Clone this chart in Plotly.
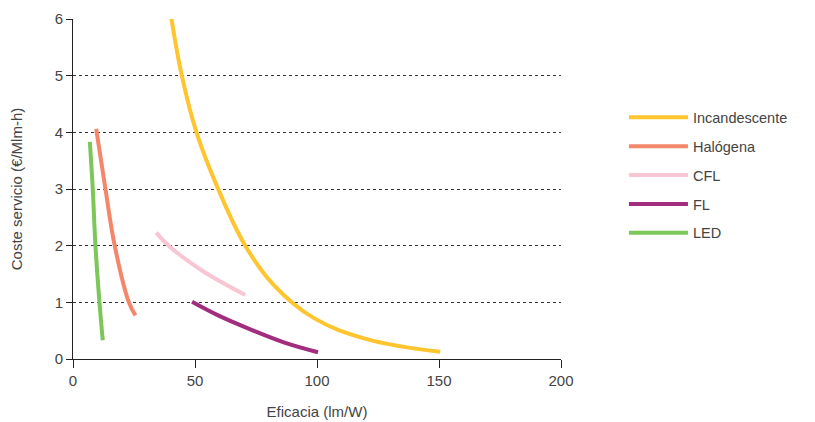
import plotly.graph_objects as go

# Data
inc_x = [40.3, 44.6, 50.6, 59.5, 70.6, 82.2, 98.6, 120.4, 150.5]
inc_y = [6.02, 5.0, 4.0, 3.0, 2.0, 1.31, 0.726, 0.35, 0.127]

hal_x = [9.5, 13.3, 17.1, 22.9, 25.6]
hal_y = [4.06, 3.0, 2.0, 1.0, 0.77]

cfl_x = [34.1, 39.2, 52.2, 70.6]
cfl_y = [2.23, 2.0, 1.58, 1.13]

fl_x = [48.8, 59.7, 73.4, 87.0, 100.4]
fl_y = [1.01, 0.765, 0.51, 0.285, 0.12]

led_x = [6.9, 8.1, 9.2, 10.85, 12.2]
led_y = [3.83, 3.0, 2.0, 1.0, 0.33]

x_ticks = [0, 50, 100, 150, 200]
y_ticks = [0, 1, 2, 3, 4, 5, 6]

series = [
    ("Incandescente", inc_x, inc_y, "#FFC52F"),
    ("Halógena", hal_x, hal_y, "#F4876A"),
    ("CFL", cfl_x, cfl_y, "#F8C6D3"),
    ("FL", fl_x, fl_y, "#A22C7D"),
    ("LED", led_x, led_y, "#7DC65A"),
]

fig = go.Figure()
for name, xs, ys, col in series:
    fig.add_trace(go.Scatter(
        x=xs, y=ys, name=name, mode="lines",
        line=dict(color=col, width=4, shape="spline", smoothing=1.1),
        legendgroup=name,
    ))

# The page body has an 8px default margin, so margins are offset by 8px
font_family = "Liberation Sans, Arial, sans-serif"
fig.update_layout(
    width=815, height=422,
    margin=dict(l=64.5, r=262, t=11, b=70.5, autoexpand=False),
    paper_bgcolor="white", plot_bgcolor="white",
    font=dict(family=font_family, size=15, color="#444"),
    showlegend=True,
    legend=dict(
        x=1.129, xanchor="left", y=0.54, yanchor="middle",
        font=dict(size=14.5, color="#444"),
        tracegroupgap=7, itemwidth=59, bgcolor="rgba(0,0,0,0)",
    ),
    xaxis=dict(
        range=[0, 200], tickvals=x_ticks, showgrid=False, zeroline=False,
        showline=True, linecolor="#222", linewidth=1,
        ticks="outside", ticklen=8, tickcolor="#222",
        title=dict(text="Eficacia (lm/W)", standoff=18, font=dict(size=15)),
        fixedrange=True, automargin=False,
    ),
    yaxis=dict(
        range=[0, 6], tickvals=y_ticks, showgrid=True, gridcolor="#333",
        griddash="dot", gridwidth=1, zeroline=False,
        showline=True, linecolor="#222", linewidth=1,
        ticks="outside", ticklen=6, tickcolor="#222",
        title=dict(text="Coste servicio (€/Mlm-h)", standoff=31, font=dict(size=15)),
        fixedrange=True, automargin=False,
    ),
)

fig.write_html("out.html")
